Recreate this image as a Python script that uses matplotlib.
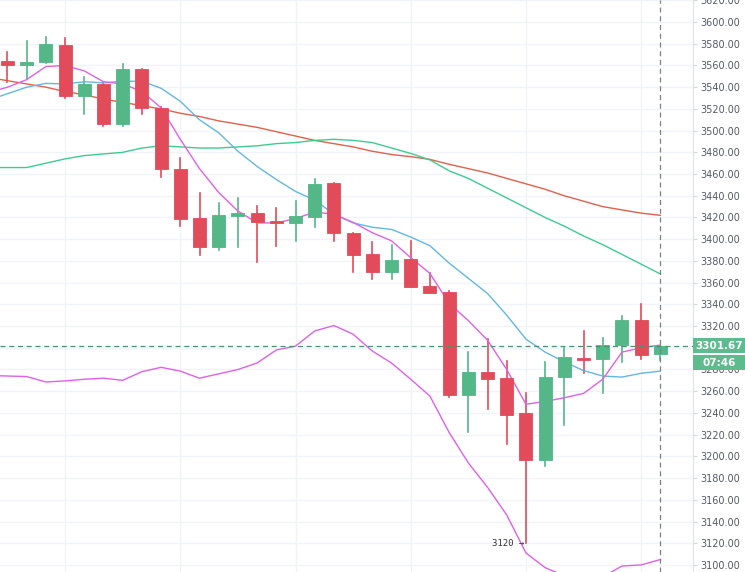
import matplotlib
matplotlib.use("Agg")
import matplotlib.pyplot as plt
from matplotlib.patches import Rectangle
from matplotlib.transforms import blended_transform_factory

# OHLC, one entry per candle
opens = [3564, 3560, 3563.5, 3579, 3532, 3543, 3506, 3557, 3521, 3465, 3419.5, 3393,
         3421, 3424, 3417, 3415, 3420.5, 3452, 3406, 3386, 3370, 3381.5, 3357, 3351,
         3256.5, 3278, 3272, 3240, 3196.5, 3273, 3291, 3290, 3303, 3325.5, 3294]
highs = [3572, 3582.5, 3586.5, 3585.5, 3549, 3544, 3561, 3557, 3522, 3474.5, 3443, 3433,
         3438, 3431, 3429, 3435, 3455.5, 3452, 3406, 3397, 3394.5, 3398, 3368.5, 3352,
         3296, 3308, 3287.5, 3258, 3286.5, 3299.5, 3315, 3309, 3329, 3340, 3302]
lows = [3545, 3548, 3562, 3530, 3515, 3504, 3504.5, 3515, 3457.5, 3412.5, 3385, 3390,
        3392.5, 3379, 3394, 3398.5, 3411.5, 3398, 3370, 3363, 3363, 3356, 3350, 3255,
        3222, 3243.5, 3211, 3120, 3191.5, 3229, 3277, 3258, 3287, 3290, 3289]
closes = [3560, 3563, 3579.5, 3532, 3543, 3506, 3557, 3521, 3464.5, 3419, 3393, 3422,
          3424.5, 3416, 3414.5, 3421, 3451, 3405.7, 3385, 3370, 3381, 3356, 3350, 3256.5,
          3278, 3271, 3238.5, 3197, 3273, 3291.5, 3289, 3303, 3325.5, 3293.5, 3301.67]

# moving averages / bands, first value is the bar just left of the view
ma_red = [3549, 3546, 3543, 3540, 3536, 3533, 3529, 3526, 3523, 3520, 3516, 3513, 3509,
          3506, 3503, 3499, 3495, 3491, 3488, 3485, 3481, 3478, 3476, 3473.5, 3469, 3465,
          3461, 3456, 3451, 3446, 3440, 3435, 3430, 3427, 3424, 3422]
ma_teal = [3466, 3466, 3466, 3470, 3474, 3477, 3478.5, 3480, 3484, 3486, 3485, 3484, 3484,
           3485, 3486, 3488, 3489, 3491, 3492, 3491, 3489, 3484, 3479, 3473, 3463, 3456,
           3447, 3438, 3429, 3420, 3412, 3403, 3395, 3386, 3377, 3368]
ma_blue = [3528, 3534, 3540, 3543.5, 3543, 3545, 3544, 3545.5, 3545.5, 3539, 3527, 3510,
           3498, 3481, 3467, 3455, 3444, 3436, 3423, 3415, 3411, 3409, 3402, 3394, 3378,
           3364, 3350, 3330, 3308, 3296, 3287, 3279, 3274, 3273, 3276.5, 3278.5]
ma_mag = [3535, 3540, 3547, 3559, 3560, 3555, 3545, 3543, 3536, 3521, 3492, 3465, 3443,
          3426, 3415, 3415, 3419, 3425, 3423, 3415.5, 3406, 3398.5, 3383, 3368.5, 3341,
          3325, 3307, 3280, 3248, 3250.5, 3254, 3258, 3271, 3296, 3300, 3302.5]
band_low = [3274.5, 3274, 3273.5, 3268.5, 3269.5, 3271, 3272, 3270, 3278, 3282, 3278.5,
            3272, 3276, 3280, 3286, 3298, 3301.5, 3315.5, 3320.5, 3312.5, 3297, 3286,
            3271, 3255.5, 3222, 3194, 3171.5, 3146, 3111, 3097.5, 3090, 3086, 3089,
            3099, 3100, 3105]

last_price = 3301.67
countdown = "07:46"
low_label = "3120"
yticks = list(range(3100, 3621, 20))

up_col = "#53b787"
dn_col = "#e24b5a"
box_col = "#5dbb8e"

fig = plt.figure(figsize=(7.45, 5.72), dpi=100)
ax = fig.add_axes([0, 0, 693 / 745, 1])

n = len(closes)
idx = list(range(n))
ma_idx = list(range(-1, n))

# grid
for y in yticks:
    ax.axhline(y, color="#f0f3f7", lw=1, zorder=0)
for gx in range(3, n, 6):
    ax.axvline(gx, color="#f0f3f7", lw=1, zorder=0)

# indicators
ax.plot(ma_idx, ma_red, color="#e0604e", lw=1, zorder=3)
ax.plot(ma_idx, ma_teal, color="#3dcc90", lw=1, zorder=3)
ax.plot(ma_idx, ma_blue, color="#62b8e0", lw=1, zorder=3)
ax.plot(ma_idx, ma_mag, color="#dd62e6", lw=1, zorder=3)
ax.plot(ma_idx, band_low, color="#dd62e6", lw=1, zorder=3)

# candles
w = 0.68
for i in idx:
    o, h, l, c = opens[i], highs[i], lows[i], closes[i]
    col = up_col if c >= o else dn_col
    ax.plot([i, i], [l, h], color=col, lw=1.2, zorder=2)
    bottom = min(o, c)
    height = max(abs(c - o), 0.8)
    ax.add_patch(Rectangle((i - w / 2, bottom), w, height, facecolor=col,
                           edgecolor=col, lw=0.6, zorder=4))

# last price line and current bar marker
ax.axhline(last_price, color="#4f8f6e", lw=0.9, ls=(0, (4, 3)), zorder=5)
ax.axvline(n - 1, color="#7d8088", lw=0.9, ls=(0, (4, 3)), zorder=5)

# low annotation
ax.text(26.9, lows[27], low_label + " \u2192", ha="right", va="center",
        fontsize=6.5, color="#333333", family="DejaVu Sans Mono", zorder=6)

ax.set_xlim(-0.39, 35.7)
ax.set_ylim(3093.5, 3620.3)

ax.yaxis.tick_right()
ax.set_yticks(yticks)
ax.set_yticklabels([f"{t:.2f}" for t in yticks])
ax.tick_params(axis="y", length=3, color="#d6d9de", labelsize=7, labelcolor="#555a63", pad=2)
ax.set_xticks([])
for s in ["top", "bottom", "left"]:
    ax.spines[s].set_visible(False)
ax.spines["right"].set_color("#e0e3e8")

# price / countdown boxes on the scale
tr = blended_transform_factory(ax.transAxes, ax.transData)
box_w = 52 / 693
box_h = 15 / 1.086
ax.add_patch(Rectangle((1.0, last_price - box_h / 2), box_w, box_h, transform=tr,
                       facecolor=box_col, edgecolor="none", clip_on=False, zorder=10))
ax.add_patch(Rectangle((1.0, last_price - box_h / 2 - 1.5 - box_h), box_w, box_h,
                       transform=tr, facecolor=box_col, edgecolor="none",
                       clip_on=False, zorder=10))
ax.text(1.0 + box_w / 2, last_price, f"{last_price:.2f}", transform=tr, ha="center",
        va="center", fontsize=7.5, color="white", fontweight="bold", zorder=11,
        clip_on=False)
ax.text(1.0 + box_w / 2, last_price - box_h - 1.5, countdown, transform=tr, ha="center",
        va="center", fontsize=7.5, color="white", fontweight="bold", zorder=11,
        clip_on=False)

fig.savefig("out.png", dpi=100, facecolor="white")
